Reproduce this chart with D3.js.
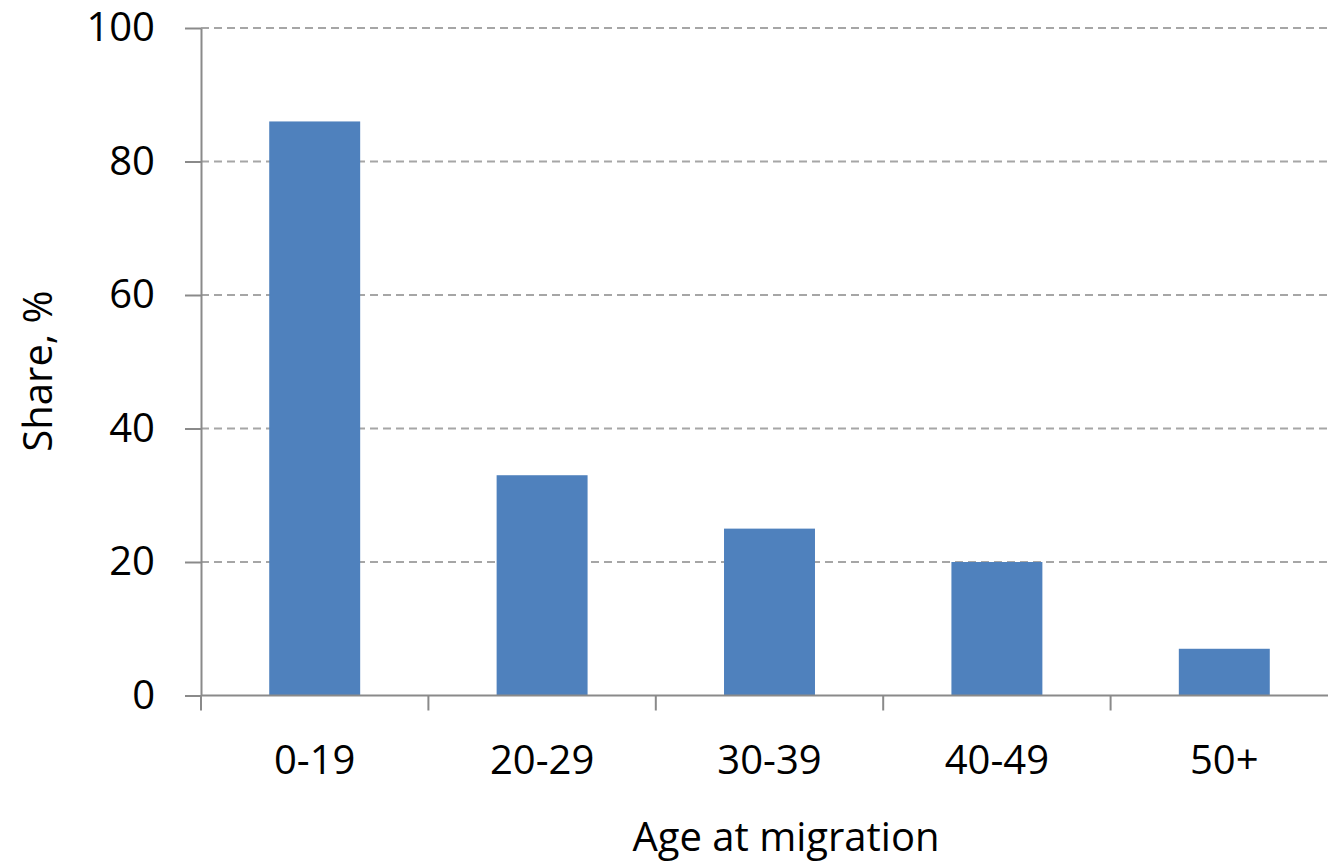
<!DOCTYPE html>
<html>
<head>
<meta charset="utf-8">
<script src="https://cdn.jsdelivr.net/npm/d3@7"></script>
<style>
  html, body { margin: 0; padding: 0; background: #fff; }
  svg { display: block; font-family: "Open Sans", sans-serif; }
</style>
</head>
<body>
<div id="chart"></div>
<script>
/**
 * Chart data.
 */
const ageGroups = ["0-19", "20-29", "30-39", "40-49", "50+"];
const shares = [86, 33, 25, 20, 7];
const yTicks = [0, 20, 40, 60, 80, 100];

/**
 * Chart configuration.
 */
const width = 1328;
const height = 864;
const plotLeft = 201;
const plotRight = 1338; // the last band runs past the window edge
const plotTop = 28;
const plotBottom = 695.5;
const barColor = "#4f81bd";
const axisColor = "#8a8a8a";
const gridColor = "#a6a6a6";

const svg = d3.select("#chart")
  .append("svg")
    .attr("width", width)
    .attr("height", height);

const x = d3.scaleBand()
  .domain(ageGroups)
  .range([plotLeft, plotRight])
  .paddingInner(0.6)
  .paddingOuter(0.3);

const y = d3.scaleLinear()
  .domain([0, 100])
  .range([plotBottom, plotTop]);

// dashed gridlines
svg.append("g")
    .attr("class", "grid")
  .selectAll("line")
  .data(yTicks.filter(d => d > 0))
  .enter().append("line")
    .attr("x1", plotLeft)
    .attr("x2", width)
    .attr("y1", d => y(d))
    .attr("y2", d => y(d))
    .style("stroke", gridColor)
    .style("stroke-width", 2)
    .style("stroke-dasharray", "8,5");

// bars
svg.append("g")
    .attr("class", "bars")
  .selectAll("rect")
  .data(shares)
  .enter().append("rect")
    .attr("x", (d, i) => x(ageGroups[i]))
    .attr("width", x.bandwidth())
    .attr("y", d => y(d))
    .attr("height", d => y(0) - y(d))
    .style("fill", barColor);

// y axis
const yAxis = svg.append("g")
    .attr("transform", `translate(${plotLeft},0)`)
    .call(d3.axisLeft(y).tickValues(yTicks).tickSize(16).tickPadding(30).tickSizeOuter(0));

// x axis, ticks sit on the band boundaries
const bandEdges = ageGroups.map(g => x(g) - x.step() * 0.3);
const xAxis = svg.append("g")
    .attr("transform", `translate(0,${plotBottom})`)
    .call(d3.axisBottom(x).tickSize(0).tickPadding(50).tickSizeOuter(0));

xAxis.selectAll(".edge")
  .data(bandEdges)
  .enter().append("line")
    .attr("class", "edge")
    .attr("x1", d => d)
    .attr("x2", d => d)
    .attr("y1", 0)
    .attr("y2", 15);

xAxis.select(".domain").attr("d", `M${plotLeft},0H${width}`);

[xAxis, yAxis].forEach(axis => {
  axis.selectAll(".domain, line").style("stroke", axisColor).style("stroke-width", 2);
  axis.selectAll("text")
    .style("font-family", "'Open Sans', sans-serif")
    .style("font-size", "40px")
    .style("fill", "#000");
});

// axis titles
svg.append("text")
    .attr("x", 786)
    .attr("y", 851)
    .attr("text-anchor", "middle")
    .style("font-size", "40px")
    .text("Age at migration");

svg.append("text")
    .attr("transform", `translate(52,${371}) rotate(-90)`)
    .attr("text-anchor", "middle")
    .style("font-size", "40px")
    .text("Share, %");
</script>
</body>
</html>
